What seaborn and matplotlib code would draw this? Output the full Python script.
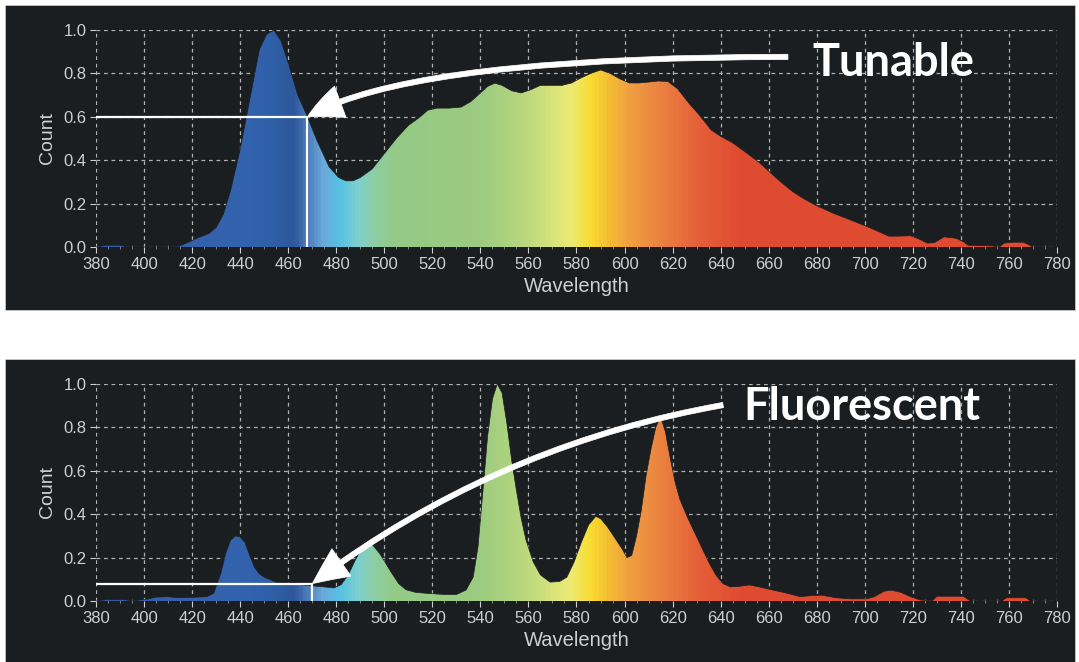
import numpy as np
import pandas as pd
import seaborn as sns
import matplotlib.pyplot as plt
from matplotlib.colors import LinearSegmentedColormap
from matplotlib.patches import Rectangle

# spectrum readings (wavelength nm, relative count)
tunable_wl = [380, 384, 390, 393, 412, 415, 419, 423, 427, 430, 433, 436, 440, 444, 448, 451,
              454, 457, 460, 464, 468, 472, 477, 481, 484, 487, 490, 495, 500, 505, 510, 515,
              518, 522, 527, 532, 536, 540, 543, 546, 549, 553, 557, 561, 565, 569, 574, 578,
              582, 586, 590, 594, 598, 602, 606, 610, 614, 618, 622, 627, 631, 636, 640, 645,
              650, 656, 660, 665, 670, 675, 680, 687, 694, 701, 706, 710, 714, 719, 723, 726,
              729, 733, 738, 741, 743, 753, 756, 758, 762, 766, 768, 770, 780]
tunable_count = [0, 0.008, 0.008, 0, 0, 0.005, 0.025, 0.045, 0.062, 0.09, 0.15, 0.26, 0.45, 0.68, 0.91, 0.98,
                 1.0, 0.95, 0.85, 0.70, 0.60, 0.49, 0.37, 0.32, 0.305, 0.305, 0.32, 0.36, 0.43, 0.50, 0.56, 0.60,
                 0.63, 0.64, 0.64, 0.645, 0.67, 0.71, 0.74, 0.755, 0.745, 0.72, 0.71, 0.725, 0.745, 0.745, 0.745, 0.756,
                 0.78, 0.80, 0.816, 0.80, 0.775, 0.756, 0.756, 0.76, 0.765, 0.763, 0.73, 0.66, 0.61, 0.54, 0.51, 0.48,
                 0.44, 0.39, 0.35, 0.30, 0.255, 0.22, 0.19, 0.155, 0.125, 0.094, 0.07, 0.05, 0.05, 0.052, 0.035, 0.018,
                 0.02, 0.047, 0.04, 0.025, 0.008, 0.005, 0.0, 0.018, 0.022, 0.022, 0.012, 0, 0]

fluor_wl = [380, 384, 392, 395, 402, 405, 410, 414, 420, 426, 429, 432, 434, 436, 438, 440,
            442, 444, 446, 448, 450, 455, 460, 465, 470, 475, 479, 482, 485, 488, 491, 493,
            495, 498, 500, 503, 506, 509, 513, 518, 525, 530, 534, 537, 539, 541, 543, 545,
            547, 549, 551, 553, 555, 557, 559, 562, 565, 569, 573, 576, 579, 582, 585, 588,
            590, 593, 596, 599, 601, 603, 605, 607, 609, 611, 613, 615, 617, 619, 621, 623,
            626, 629, 632, 635, 638, 641, 644, 648, 652, 656, 662, 668, 673, 678, 682, 688,
            694, 701, 704, 708, 711, 715, 719, 723, 728, 730, 741, 744, 757, 759, 767, 769, 780]
fluor_count = [0, 0.006, 0.006, 0, 0.01, 0.018, 0.02, 0.015, 0.017, 0.02, 0.035, 0.13, 0.22, 0.28, 0.30, 0.295,
               0.27, 0.21, 0.155, 0.125, 0.11, 0.087, 0.08, 0.075, 0.07, 0.065, 0.06, 0.075, 0.12, 0.19, 0.25, 0.267,
               0.26, 0.22, 0.185, 0.13, 0.08, 0.052, 0.04, 0.035, 0.03, 0.03, 0.05, 0.11, 0.25, 0.5, 0.76, 0.93,
               1.0, 0.96, 0.82, 0.65, 0.51, 0.38, 0.28, 0.18, 0.12, 0.087, 0.09, 0.11, 0.18, 0.27, 0.35, 0.39,
               0.38, 0.34, 0.29, 0.24, 0.20, 0.21, 0.30, 0.42, 0.58, 0.70, 0.80, 0.85, 0.78, 0.66, 0.55, 0.47,
               0.39, 0.32, 0.25, 0.18, 0.12, 0.08, 0.065, 0.068, 0.074, 0.065, 0.05, 0.035, 0.02, 0.025, 0.027, 0.015,
               0.01, 0.01, 0.02, 0.045, 0.05, 0.04, 0.02, 0.005, 0, 0.022, 0.022, 0, 0, 0.015, 0.015, 0, 0]

# marked reading on each spectrum (wavelength, count)
tunable_mark = (468, 0.60)
fluor_mark = (470, 0.08)
tunable_label = "Tunable"
fluor_label = "Fluorescent"
x_ticks = list(range(380, 781, 20))
y_ticks = [0.0, 0.2, 0.4, 0.6, 0.8, 1.0]

BG = "#1b1e21"
TXT = "#cfcfcf"

# spectral colours for the fill
spec_stops = [(380, "#3a5aa8"), (440, "#3363ad"), (452, "#3060a8"), (462, "#2e579c"),
              (467, "#4a78b8"), (474, "#6aa8d8"), (481, "#55c3e3"), (489, "#7fd0cc"),
              (497, "#8fcd9e"), (505, "#94ca86"), (540, "#9ccb80"), (556, "#b5d67e"),
              (568, "#d2e27e"), (578, "#eeea72"), (586, "#f8dc30"), (593, "#f4bf32"),
              (602, "#f0a040"), (616, "#ea8040"), (632, "#e45e38"), (648, "#e04c32"),
              (780, "#df4a30")]
lo, hi = 380, 780
spec_cmap = LinearSegmentedColormap.from_list(
    "spec", [((w - lo) / (hi - lo), c) for w, c in spec_stops])

sns.set_theme(style="dark", rc={"axes.facecolor": BG, "figure.facecolor": "white",
                                "axes.edgecolor": BG})
plt.rcParams['font.family'] = ['Liberation Sans', 'DejaVu Sans']

fig = plt.figure(figsize=(10.79, 6.62), dpi=100)
# dark panels behind each chart
fig.patches.append(Rectangle((5 / 1079, 1 - 310 / 662), 1070 / 1079, 305 / 662,
                             transform=fig.transFigure, facecolor=BG, edgecolor="#c8c8c8",
                             lw=0.6, zorder=-10))
fig.patches.append(Rectangle((5 / 1079, 0), 1070 / 1079, 1 - 359 / 662,
                             transform=fig.transFigure, facecolor=BG, edgecolor="#c8c8c8",
                             lw=0.6, zorder=-10))

ax_top = fig.add_axes([96 / 1079, 1 - 247 / 662, 961 / 1079, 217 / 662])
ax_bot = fig.add_axes([96 / 1079, 1 - 601 / 662, 961 / 1079, 217 / 662])

panels = [
    (ax_top, tunable_wl, tunable_count, tunable_mark, tunable_label,
     (668, 0.876), (712, 0.85), "angle3,angleA=0,angleB=30"),
    (ax_bot, fluor_wl, fluor_count, fluor_mark, fluor_label,
     (641, 0.903), (699, 0.894), "arc3,rad=0.12"),
]

grad = np.linspace(lo, hi, 1600)[np.newaxis, :]

for ax, wl, cnt, mark, label, tail, txt_pos, conn in panels:
    df = pd.DataFrame({"Wavelength": wl, "Count": cnt})
    ax.set_facecolor(BG)
    ax.set_xlim(lo, hi)
    ax.set_ylim(0, 1)

    # gradient clipped to the area under the spectrum
    poly = ax.fill_between(df["Wavelength"], 0, df["Count"], color="none", lw=0)
    img = ax.imshow(grad, extent=[lo, hi, 0, 1], aspect="auto", cmap=spec_cmap,
                    vmin=lo, vmax=hi, origin="lower", zorder=2)
    img.set_clip_path(poly.get_paths()[0], transform=ax.transData)
    sns.lineplot(data=df, x="Wavelength", y="Count", ax=ax, color=BG, lw=0.5, zorder=3)

    # marked reading
    ax.plot([lo, mark[0]], [mark[1], mark[1]], color="white", lw=1.6, zorder=4,
            solid_capstyle="butt", clip_on=False)
    ax.plot([mark[0], mark[0]], [0, mark[1]], color="white", lw=1.6, zorder=4,
            solid_capstyle="butt")

    ax.annotate("", xy=mark, xytext=tail, zorder=6,
                arrowprops=dict(arrowstyle="simple,head_length=2.6,head_width=2.4,tail_width=0.38",
                                mutation_scale=10, facecolor="white", edgecolor="white",
                                lw=0.5, shrinkA=0, shrinkB=0, connectionstyle=conn))
    ax.text(txt_pos[0], txt_pos[1], label, ha="center", va="center", color="white",
            fontsize=32.5, fontweight="bold", family=["Lato", "DejaVu Sans"], zorder=7)

    ax.set_xticks(x_ticks)
    ax.set_yticks(y_ticks)
    ax.set_yticklabels([f"{v:.1f}" for v in y_ticks])
    ax.set_xticks(np.arange(lo, hi + 1, 5), minor=True)
    ax.grid(True, which="major", color="#b0b0b0", linestyle=(0, (3, 3)), lw=0.9, zorder=1)
    ax.set_axisbelow(True)
    for s in ax.spines.values():
        s.set_visible(False)
    ax.tick_params(axis="both", which="major", colors=TXT, labelsize=12, length=4,
                   width=0.8, pad=3, bottom=True, left=True, labelcolor=TXT)
    ax.tick_params(axis="x", which="minor", colors="#909090", length=3, width=0.6,
                   bottom=True, direction="inout")
    ax.set_xlabel("Wavelength", color=TXT, fontsize=14.5, labelpad=4)
    ax.set_ylabel("Count", color=TXT, fontsize=14, labelpad=5)

fig.savefig("out.png", dpi=100)
